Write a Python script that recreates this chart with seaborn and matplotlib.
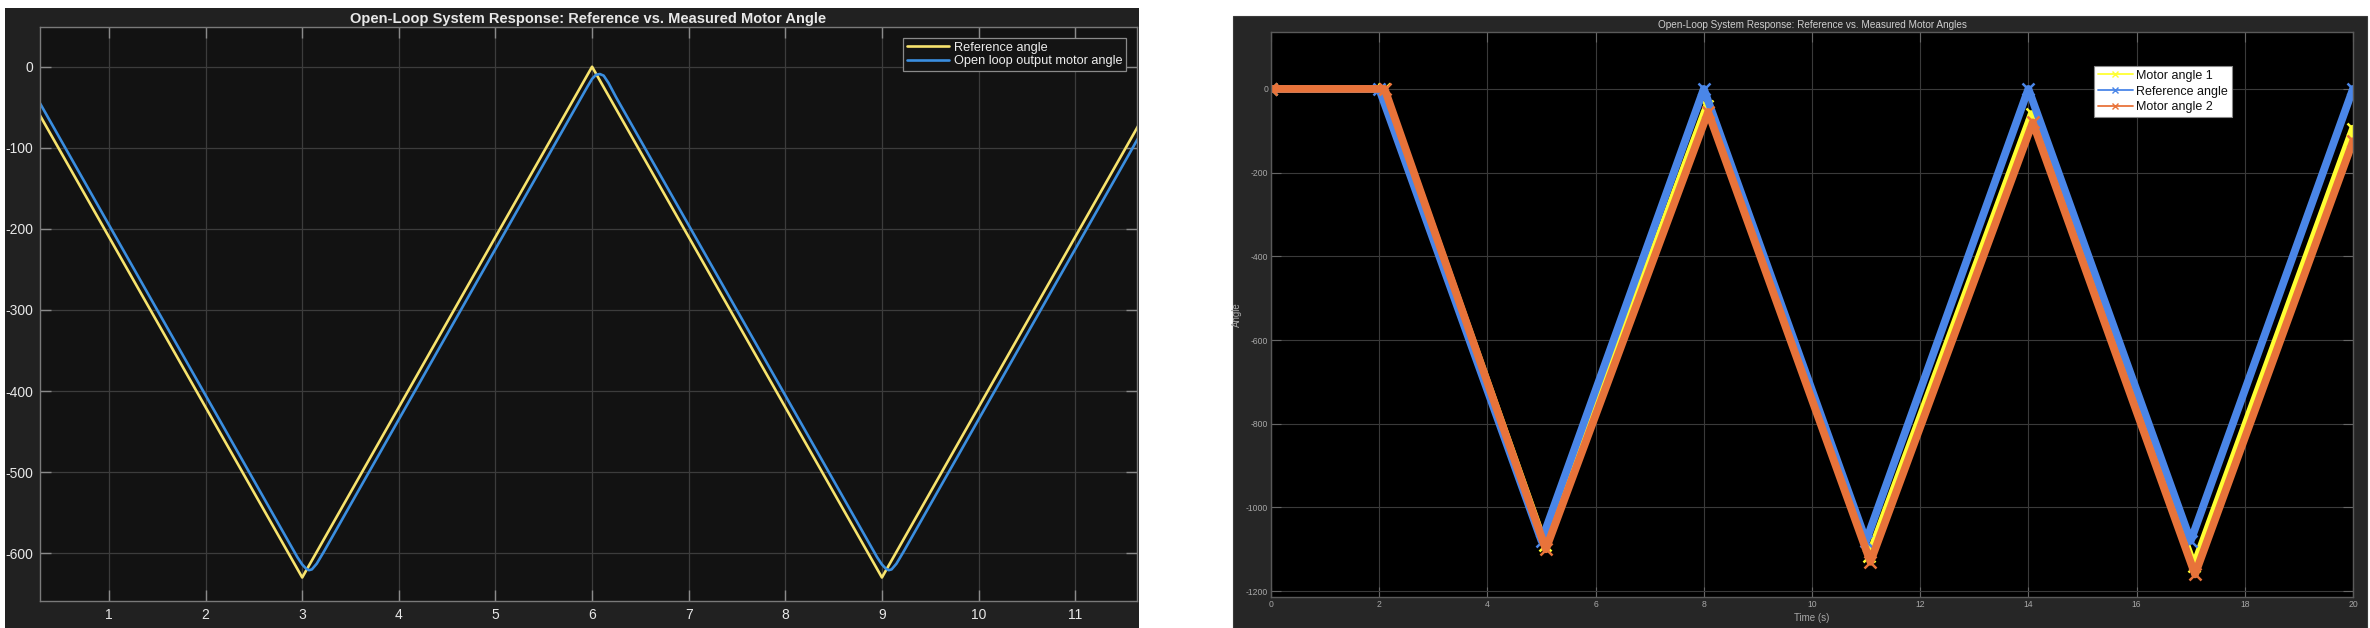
import numpy as np
import pandas as pd
import seaborn as sns
import matplotlib
matplotlib.use("Agg")
import matplotlib.pyplot as plt
from matplotlib.patches import Rectangle
from matplotlib.lines import Line2D

# ---------------- data ----------------
# Left panel: reference triangle wave and measured (lagging, rounded) motor angle
left_ref_t = [0.0, 3.0, 6.0, 9.0, 12.0]
left_ref_y = [0, -630, 0, -630, 0]
left_meas_t = [0.2, 2.95, 3.0, 3.04, 3.07, 3.10, 3.15, 3.22,
               5.95, 6.0, 6.04, 6.08, 6.12, 6.17, 6.25,
               8.95, 9.0, 9.04, 9.07, 9.10, 9.15, 9.22, 11.8]
left_meas_y = [-27, -605, -614, -619, -621, -620, -613, -599,
               -25, -15, -10, -9, -11, -20, -38,
               -605, -614, -619, -621, -620, -613, -599, -57]
left_labels = ["Reference angle", "Open loop output motor angle"]
left_xticks = [1, 2, 3, 4, 5, 6, 7, 8, 9, 10, 11]
left_yticks = [-600, -500, -400, -300, -200, -100, 0]

# Right panel: three series
right_ref_t = [0, 2, 5, 8, 11, 14, 17, 20]
right_ref_y = [0, 0, -1080, 0, -1080, 0, -1080, 0]
right_m1_t = [0, 2.08, 5.06, 8.06, 11.06, 14.06, 17.06, 20]
right_m1_y = [0, 0, -1090, -40, -1115, -60, -1140, -95]
right_m2_t = [0, 2.10, 5.08, 8.08, 11.08, 14.08, 17.08, 20]
right_m2_y = [0, 0, -1100, -55, -1130, -80, -1160, -125]
right_labels = ["Motor angle 1", "Reference angle", "Motor angle 2"]
right_xticks = [0, 2, 4, 6, 8, 10, 12, 14, 16, 18, 20]
right_yticks = [-1200, -1000, -800, -600, -400, -200, 0]

# ---------------- style ----------------
sns.set_theme(style="dark")
plt.rcParams["font.family"] = ["Liberation Sans", "DejaVu Sans"]
plt.rcParams["axes.unicode_minus"] = False

W, H = 2370, 628
fig = plt.figure(figsize=(W / 100, H / 100), dpi=100)
fig.patch.set_facecolor("white")

def fx(px):
    return px / W

def fy(py):
    return 1 - py / H

# dark frames behind each panel
fig.add_artist(Rectangle((fx(5), 0), fx(1139) - fx(5), fy(8), transform=fig.transFigure,
                         facecolor="#212121", edgecolor="none", zorder=0))
fig.add_artist(Rectangle((fx(1233), 0), fx(2367) - fx(1233), fy(16), transform=fig.transFigure,
                         facecolor="#262626", edgecolor="#3a3a3a", lw=0.8, zorder=0))

# ---------------- left panel ----------------
ax1 = fig.add_axes([fx(40), fy(601), fx(1137) - fx(40), fy(27) - fy(601)])
ax1.set_facecolor("#121212")
sns.lineplot(x=left_ref_t, y=left_ref_y, ax=ax1, color="#F7E36D", lw=1.9,
             estimator=None, sort=False, label=left_labels[0])
sns.lineplot(x=left_meas_t, y=left_meas_y, ax=ax1, color="#3A8EE0", lw=1.9,
             estimator=None, sort=False, label=left_labels[1])
ax1.set_xlim(0.286, 11.64)
ax1.set_ylim(-659, 49)
ax1.set_xticks(left_xticks)
ax1.set_yticks(left_yticks)
ax1.grid(True, color="#3c3c3c", lw=0.9)
for s in ax1.spines.values():
    s.set_color("#7a7a7a")
    s.set_linewidth(1.0)
    s.set_visible(True)
ax1.tick_params(direction="in", length=8, width=1.0, color="#8a8a8a",
                labelcolor="#e8e8e8", labelsize=10, pad=5,
                top=True, right=True, bottom=True, left=True)
ax1.set_title("Open-Loop System Response: Reference vs. Measured Motor Angle",
              color="#e8e8e8", fontsize=10.5, fontweight="bold", pad=3)
leg1 = ax1.legend(loc="upper right", bbox_to_anchor=(fx(1126), fy(38)),
                  bbox_transform=fig.transFigure, borderaxespad=0,
                  fontsize=9.2, frameon=True, fancybox=False, framealpha=1,
                  facecolor="#141414", edgecolor="#8a8a8a",
                  handlelength=3.3, handletextpad=0.35, labelspacing=0.1,
                  borderpad=0.3)
leg1.get_frame().set_linewidth(0.9)
for t in leg1.get_texts():
    t.set_color("#eeeeee")

# ---------------- right panel ----------------
ax2 = fig.add_axes([fx(1271), fy(597), fx(2353) - fx(1271), fy(32) - fy(597)])
ax2.set_facecolor("#000000")
series = [
    (right_m1_t, right_m1_y, "#FFFF33", right_labels[0]),
    (right_ref_t, right_ref_y, "#4A86E8", right_labels[1]),
    (right_m2_t, right_m2_y, "#E8733A", right_labels[2]),
]
for t_, y_, c, lab in series:
    sns.lineplot(x=t_, y=y_, ax=ax2, color=c, lw=5.6, marker="x", markersize=8,
                 markeredgewidth=1.8, markeredgecolor=c,
                 estimator=None, sort=False, legend=False)
ax2.set_xlim(0, 20)
ax2.set_ylim(-1214, 136)
ax2.set_xticks(right_xticks)
ax2.set_yticks(right_yticks)
ax2.grid(True, color="#3a3a3a", lw=0.8)
for s in ax2.spines.values():
    s.set_color("#5a5a5a")
    s.set_linewidth(1.0)
    s.set_visible(True)
ax2.tick_params(direction="in", length=7, width=0.8, color="#666666",
                labelcolor="#a8a8a8", labelsize=6.2, pad=2,
                top=True, right=True, bottom=True, left=True)
ax2.set_title("Open-Loop System Response: Reference vs. Measured Motor Angles",
              color="#cfcfcf", fontsize=7.2, pad=3)
ax2.set_xlabel("Time (s)", color="#a8a8a8", fontsize=7, labelpad=3)
ax2.set_ylabel("Angle", color="#a8a8a8", fontsize=7)
ax2.yaxis.set_label_coords((1242 - 1271) / (2353 - 1271), 0.5)
handles = [Line2D([0], [0], color=c, lw=1.3, marker="x", markersize=4, markeredgewidth=1.0)
           for _, _, c, _ in series]
leg2 = ax2.legend(handles, right_labels, loc="upper right",
                  bbox_to_anchor=(fx(2232), fy(66)), bbox_transform=fig.transFigure,
                  borderaxespad=0, fontsize=9.0, frameon=True, fancybox=False,
                  framealpha=1, facecolor="white", edgecolor="#888888",
                  handlelength=2.8, handletextpad=0.3, labelspacing=0.3, borderpad=0.3)
leg2.get_frame().set_linewidth(0.8)
for t in leg2.get_texts():
    t.set_color("#111111")

fig.savefig("out.png", dpi=100, facecolor=fig.get_facecolor())
